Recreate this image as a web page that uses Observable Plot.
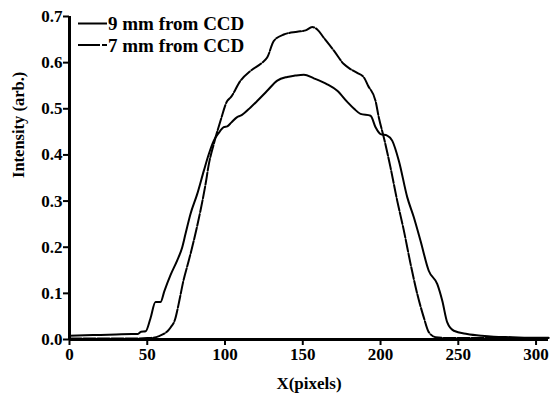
<!DOCTYPE html>
<html><head><meta charset="utf-8">
<script src="https://cdn.jsdelivr.net/npm/d3@7"></script>
<script src="https://cdn.jsdelivr.net/npm/@observablehq/plot@0.6"></script>
<style>
body{margin:0;background:#fff}
#wrap{position:relative;width:550px;height:394px;overflow:hidden}
#legend{position:absolute;left:0;top:0}
</style>
</head><body><div id="wrap"></div>
<script>
const seriesNames = ["9 mm from CCD", "7 mm from CCD"];
const x9 = [0,10,20,30,40,44,46,49,52,55.3,58.5,61,65,69.2,72.5,74.6,77.8,82.1,86.4,89.6,92.8,96,99.2,101.4,104,107.8,110,116.4,121,127.1,133.6,140,145,150.7,157.1,165.7,172.2,178.6,183,187.1,193.6,196.8,200,204.3,207.5,211.8,217.2,221.4,225.7,231,236.5,239.7,242.9,247.1,255.7,265,272.7,285,295,308];
const y9 = [0.008,0.009,0.01,0.011,0.012,0.012,0.017,0.018,0.045,0.081,0.081,0.105,0.14,0.171,0.2,0.229,0.272,0.315,0.366,0.402,0.431,0.448,0.46,0.462,0.47,0.482,0.485,0.503,0.518,0.539,0.561,0.569,0.572,0.574,0.566,0.553,0.539,0.515,0.5,0.489,0.485,0.46,0.445,0.442,0.431,0.387,0.308,0.265,0.214,0.149,0.12,0.084,0.037,0.019,0.012,0.008,0.006,0.005,0.004,0.004];
const x7 = [0,20,40,50,54,58,60.6,63,65,68,70,73.3,76.7,79.9,84.2,87.5,89.6,92.8,97.1,101.4,103.5,110,116.4,123.9,127.1,131.4,137.8,146.4,151.8,156.1,159.3,163.5,170,176.4,180.7,185,189.3,192,196.8,198.9,202.1,206.4,210.7,215,219.3,223.6,227.8,231,235.4,245,260,280,308];
const y7 = [0.002,0.002,0.002,0.003,0.004,0.008,0.012,0.018,0.026,0.045,0.074,0.128,0.171,0.214,0.279,0.337,0.38,0.424,0.474,0.517,0.524,0.561,0.582,0.6,0.611,0.647,0.661,0.667,0.67,0.677,0.672,0.654,0.626,0.597,0.586,0.578,0.568,0.55,0.517,0.481,0.438,0.373,0.301,0.236,0.164,0.099,0.048,0.016,0.005,0.003,0.003,0.003,0.003];
const xTicks = [0,50,100,150,200,250,300];
const yTicks = [0,0.1,0.2,0.3,0.4,0.5,0.6,0.7];
const xTitle = "X(pixels)";
const yTitle = "Intensity (arb.)";

const rows9 = x9.map((x,i)=>({x, y:y9[i]}));
const rows7 = x7.map((x,i)=>({x, y:y7[i]}));
const fontName = "Liberation Serif";

const plot = Plot.plot({
  width:550, height:394,
  marginLeft:69, marginRight:2, marginTop:16, marginBottom:55,
  style:{fontFamily:fontName, fontWeight:"bold", fontSize:"17px", color:"#000", background:"#fff"},
  x:{domain:[0,308]},
  y:{domain:[0,0.7]},
  marks:[
    Plot.axisX({ticks:xTicks, tickSize:6, tickPadding:2, strokeWidth:2, label:null, fontSize:17}),
    Plot.axisY({ticks:yTicks, tickSize:6, tickPadding:1, strokeWidth:2, label:null, tickFormat:d3.format(".1f"), fontSize:17}),
    Plot.line(rows7, {x:"x", y:"y", stroke:"#000", strokeWidth:2, strokeDasharray:"12,2", curve:"monotone-x"}),
    Plot.line(rows9, {x:"x", y:"y", stroke:"#000", strokeWidth:2, curve:"monotone-x"}),
    Plot.ruleY([0], {stroke:"#000", strokeWidth:3}),
    Plot.ruleX([0], {stroke:"#000", strokeWidth:3}),
    Plot.text([xTitle], {frameAnchor:"bottom", dy:44, text:d=>d, fontSize:17, fontWeight:"bold", lineAnchor:"middle", fontFamily:fontName}),
    Plot.text([yTitle], {frameAnchor:"left", dx:-51, rotate:-90, text:d=>d, fontSize:16.5, fontWeight:"bold", lineAnchor:"middle", fontFamily:fontName})
  ]
});
const wrap = document.getElementById("wrap");
wrap.appendChild(plot);

// legend overlay
const dashes = [null, "22,2,5,2"];
const leg = d3.select(wrap).append("svg").attr("id","legend").attr("width",260).attr("height",60);
seriesNames.forEach((name,i)=>{
  const cy = 23.5 + i*21.5;
  leg.append("line").attr("x1",78).attr("x2",107).attr("y1",cy).attr("y2",cy)
     .attr("stroke","#000").attr("stroke-width",2).attr("stroke-dasharray",dashes[i]);
  leg.append("text").attr("x",108).attr("y",cy).attr("dy","0.35em")
     .attr("font-family",fontName).attr("font-weight","bold").attr("font-size",19).text(name);
});
</script>
</body></html>
